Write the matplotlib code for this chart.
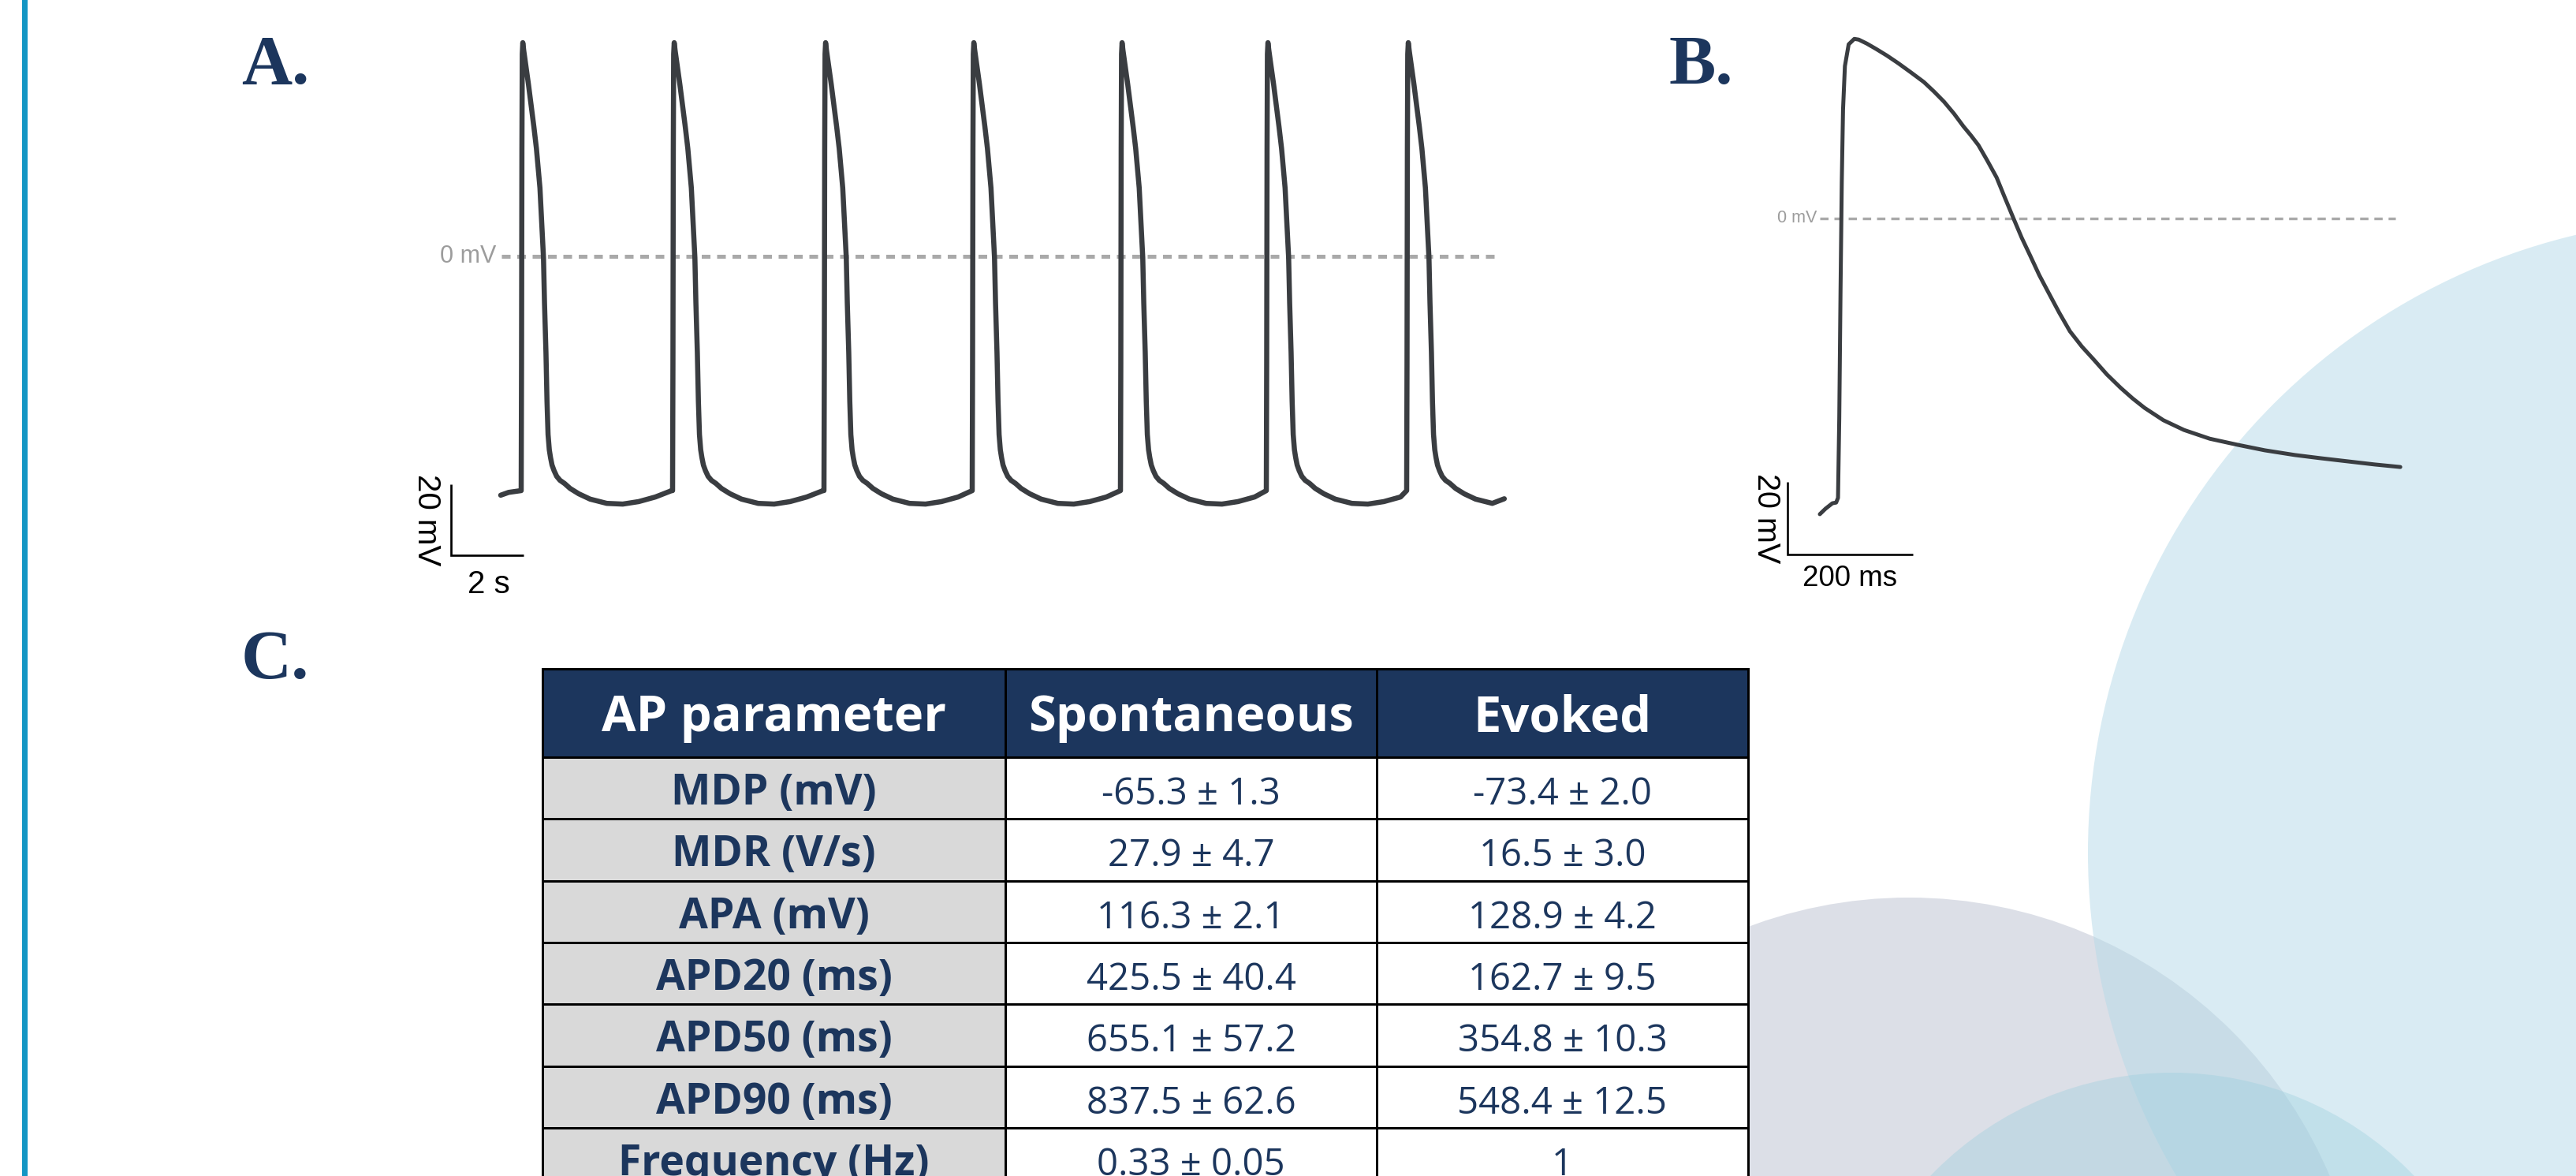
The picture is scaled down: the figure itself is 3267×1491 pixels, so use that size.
import numpy as np
import matplotlib
matplotlib.use("Agg")
import matplotlib.pyplot as plt
from matplotlib.patches import Circle, Rectangle

W, H, DPI = 3267, 1491, 100

# ---------------- Panel A: spontaneous action potentials (time s, mV) ----------------
a_onsets = [0.565, 4.739, 8.913, 13.0, 17.087, 21.109, 24.978]
a_beat_t = [0.0, 0.01, 0.02, 0.03, 0.045, 0.07, 0.13, 0.2, 0.276, 0.35, 0.42,
            0.517, 0.587, 0.615, 0.643, 0.683, 0.712, 0.741, 0.775, 0.809, 0.85,
            0.907, 0.98, 1.07, 1.196, 1.35, 1.587, 1.9, 2.36, 2.8, 3.24, 3.7, 4.15]
a_beat_mv = [-66.0, -30.0, 30.0, 57.0, 60.2, 58.0, 53.6, 48.5, 42.4, 36.5, 30.4,
             19.3, 5.3, -0.4, -13.1, -27.1, -40.9, -50.2, -54.5, -56.7, -58.8,
             -60.4, -62.0, -63.1, -64.0, -65.4, -66.9, -68.4, -69.6, -69.8, -69.1,
             -67.8, -66.0]
a_pre_t = [0.0, 0.22, 0.50]
a_pre_mv = [-67.3, -66.5, -66.1]
a_end_t = [27.67]
a_end_mv = [-68.3]
a_zero_line = [0.02, 27.5]

# ---------------- Panel B: evoked action potential (time ms, mV) ----------------
b_t = [0, 9, 20, 26, 29, 31, 33, 35, 37, 40, 46, 55, 62, 75, 90, 107, 125, 145,
       166, 182, 198, 214, 229, 241, 253, 267, 282, 295, 309, 322, 336, 350, 365,
       382, 399, 418, 437, 458, 480, 499, 518, 548, 581, 622, 667, 710, 758, 800,
       845, 885, 926]
b_mv = [-81.5, -80.0, -78.5, -78.3, -77.0, -55.0, -20.0, 10.0, 30.0, 42.0, 48.0,
        49.5, 49.3, 48.2, 46.7, 44.9, 42.8, 40.3, 37.6, 35.0, 32.2, 28.9, 25.4,
        22.9, 20.2, 16.0, 11.3, 5.8, 0.0, -5.3, -10.4, -15.6, -20.5, -26.0, -31.1,
        -35.3, -38.9, -43.0, -46.7, -49.6, -52.2, -55.6, -58.3, -60.7, -62.4,
        -63.9, -65.2, -66.1, -67.0, -67.8, -68.5]
b_zero_line = [0, 918]

# scale bars
a_bar_mv, a_bar_s = 20, 2
b_bar_mv, b_bar_ms = 20, 200

# ---------------- Panel C: table ----------------
header = ["AP parameter", "Spontaneous", "Evoked"]
params = ["MDP (mV)", "MDR (V/s)", "APA (mV)", "APD20 (ms)", "APD50 (ms)",
          "APD90 (ms)", "Frequency (Hz)"]
spontaneous = ["-65.3 ± 1.3", "27.9 ± 4.7", "116.3 ± 2.1", "425.5 ± 40.4",
               "655.1 ± 57.2", "837.5 ± 62.6", "0.33 ± 0.05"]
evoked = ["-73.4 ± 2.0", "16.5 ± 3.0", "128.9 ± 4.2", "162.7 ± 9.5",
          "354.8 ± 10.3", "548.4 ± 12.5", "1"]

# ---------------- styling ----------------
NAVY = "#1c365d"
TRACE = "#3a3d41"
DASH = "#a9a9a9"
GRAYTXT = "#9c9c9c"
PT = 72.0 / DPI  # points per pixel

fig = plt.figure(figsize=(W / DPI, H / DPI), dpi=DPI)
fig.patch.set_facecolor("white")

page = fig.add_axes([0, 0, 1, 1])
page.set_xlim(0, W)
page.set_ylim(H, 0)
page.axis("off")

# decorative background circles
page.add_patch(Circle((2421, 1718), 580, fc="#dcdfe7", ec="none", zorder=1))
page.add_patch(Circle((3453, 1081), 805, fc=(182/255, 218/255, 232/255), alpha=0.52,
                      ec="none", zorder=2))
page.add_patch(Circle((2755, 1785), 425, fc=(150/255, 205/255, 220/255), alpha=0.35,
                      ec="none", zorder=3))

# left accent bar
page.add_patch(Rectangle((28, 0), 7, H, fc="#1396c4", ec="none", zorder=4))

# panel letters
lab_kw = dict(fontfamily="Liberation Serif", fontweight="bold", fontsize=64,
              color=NAVY, ha="left", va="baseline", zorder=10)
page.text(306, 106, "A.", **lab_kw)
page.text(2117, 106, "B.", **lab_kw)
page.text(306, 860, "C.", **lab_kw)

# table
col_edges = [688, 1275, 1746, 2217]
top, hdr_h, row_h = 848, 112, 78.3
lw_tab = 3 * PT
for j in range(3):
    x0, x1 = col_edges[j], col_edges[j + 1]
    page.add_patch(Rectangle((x0, top), x1 - x0, hdr_h, fc=NAVY, ec="black",
                             lw=lw_tab, zorder=6))
    page.text((x0 + x1) / 2, top + 79, header[j], fontfamily="Open Sans",
              fontweight="bold", fontsize=45.5, color="white", ha="center",
              va="baseline", zorder=8)
for i in range(len(params)):
    y0 = top + hdr_h + i * row_h
    cells = [params[i], spontaneous[i], evoked[i]]
    for j in range(3):
        x0, x1 = col_edges[j], col_edges[j + 1]
        page.add_patch(Rectangle((x0, y0), x1 - x0, row_h,
                                 fc="#d9d9d9" if j == 0 else "white",
                                 ec="black", lw=lw_tab, zorder=6))
        if j == 0:
            page.text((x0 + x1) / 2, y0 + 60, cells[j], fontfamily="Open Sans",
                      fontweight="bold", fontsize=38.5, color=NAVY, ha="center",
                      va="baseline", zorder=8)
        else:
            page.text((x0 + x1) / 2, y0 + 60, cells[j], fontfamily="Open Sans",
                      fontsize=34, color=NAVY, ha="center", va="baseline", zorder=8)


def trace_axes(px_x0, px_x1, px_y0, px_y1, x_origin, x_scale, y_origin, y_scale):
    ax = fig.add_axes([px_x0 / W, 1 - px_y1 / H, (px_x1 - px_x0) / W,
                       (px_y1 - px_y0) / H])
    ax.set_xlim((px_x0 - x_origin) / x_scale, (px_x1 - x_origin) / x_scale)
    ax.set_ylim((y_origin - px_y1) / y_scale, (y_origin - px_y0) / y_scale)
    ax.axis("off")
    return ax


# ---------------- Panel A ----------------
axA = trace_axes(480, 1960, 20, 780, 635, 46.0, 325, 4.5)
tA, vA = list(a_pre_t), list(a_pre_mv)
for i, on in enumerate(a_onsets):
    nxt = a_onsets[i + 1] if i + 1 < len(a_onsets) else a_end_t[0]
    for bt, bv in zip(a_beat_t, a_beat_mv):
        if on + bt < nxt:
            tA.append(on + bt)
            vA.append(bv)
tA += a_end_t
vA += a_end_mv
axA.plot(a_zero_line, [0, 0], color=DASH, lw=5 * PT, linestyle=(0, (2.2, 1.7)),
         zorder=1)
axA.plot(tA, vA, color=TRACE, lw=6.5 * PT, solid_joinstyle="round",
         solid_capstyle="round", zorder=2)
axA.text(-0.13, 0, "0 mV", fontfamily="Liberation Sans", fontsize=22,
         color=GRAYTXT, ha="right", va="center")
bx, by = -1.37, -84.2
axA.plot([bx, bx, bx + a_bar_s], [by + a_bar_mv, by, by], color="black",
         lw=2.7 * PT, solid_joinstyle="miter", solid_capstyle="butt")
axA.text(-2.04, by + a_bar_mv / 2, f"{a_bar_mv} mV", rotation=270,
         fontfamily="Liberation Sans", fontsize=29, ha="center", va="center")
axA.text(bx + a_bar_s / 2 + 0.05, by - 4.0, f"{a_bar_s} s",
         fontfamily="Liberation Sans", fontsize=29, ha="center", va="top")

# ---------------- Panel B ----------------
axB = trace_axes(2150, 3267, 20, 780, 2308, 0.795, 277, 4.6)
axB.plot(b_zero_line, [0, 0], color=DASH, lw=3.4 * PT, linestyle=(0, (3.1, 2.2)),
         zorder=1)
axB.plot(b_t, b_mv, color=TRACE, lw=5 * PT, solid_joinstyle="round",
         solid_capstyle="round", zorder=2)
axB.text(-5, 0, "0 mV", fontfamily="Liberation Sans", fontsize=15.5,
         color=GRAYTXT, ha="right", va="center")
bx, by = -51.6, -92.6
axB.plot([bx, bx, bx + b_bar_ms], [by + b_bar_mv, by, by], color="black",
         lw=2.6 * PT, solid_joinstyle="miter", solid_capstyle="butt")
axB.text(-85.5, by + b_bar_mv / 2, f"{b_bar_mv} mV", rotation=270,
         fontfamily="Liberation Sans", fontsize=28.5, ha="center", va="center")
axB.text(bx + b_bar_ms / 2, by - 2.8, f"{b_bar_ms} ms",
         fontfamily="Liberation Sans", fontsize=26.5, ha="center", va="top")

fig.savefig("out.png", dpi=DPI, facecolor="white")
